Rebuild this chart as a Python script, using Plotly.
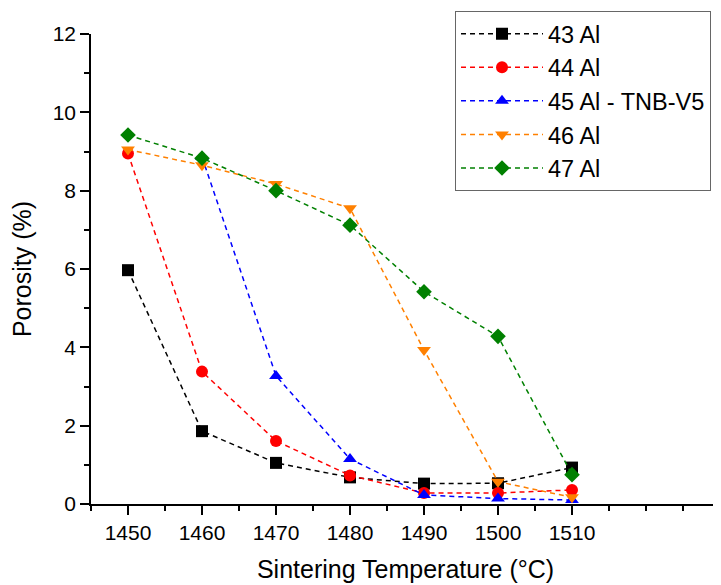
import plotly.graph_objects as go

temps = [1450, 1460, 1470, 1480, 1490, 1500, 1510]
temps_45 = [1460, 1470, 1480, 1490, 1500, 1510]

al43 = [5.97, 1.86, 1.05, 0.68, 0.52, 0.53, 0.93]
al44 = [8.95, 3.38, 1.61, 0.73, 0.28, 0.28, 0.36]
al45 = [8.86, 3.27, 1.15, 0.23, 0.14, 0.10]
al46 = [9.05, 8.65, 8.17, 7.55, 3.93, 0.57, 0.17]
al47 = [9.42, 8.83, 8.00, 7.12, 5.42, 4.28, 0.75]

series = [
    ("43 Al", temps, al43, "#000000", "square"),
    ("44 Al", temps, al44, "#FF0000", "circle"),
    ("45 Al - TNB-V5", temps_45, al45, "#0000FF", "triangle-up"),
    ("46 Al", temps, al46, "#FF8000", "triangle-down"),
    ("47 Al", temps, al47, "#008000", "diamond"),
]

fig = go.Figure()
for name, xs, ys, col, sym in series:
    fig.add_trace(go.Scatter(
        x=xs, y=ys, name=name, mode="lines+markers",
        line=dict(color=col, width=1.5, dash="5px,4px"),
        marker=dict(color=col, symbol=sym, size=12, line=dict(width=0)),
    ))

font = "Liberation Sans, Arial, sans-serif"
fig.update_layout(
    width=713, height=577,
    margin=dict(l=83, r=1, t=26, b=81),
    plot_bgcolor="white", paper_bgcolor="white",
    font=dict(family=font, size=21, color="black"),
    showlegend=True,
    legend=dict(x=0.9857, xanchor="right", y=1.049, yanchor="top",
                bordercolor="#666666", borderwidth=1, bgcolor="white",
                font=dict(size=23.5), itemwidth=82),
    xaxis=dict(
        range=[1445, 1530], tickvals=[1450, 1460, 1470, 1480, 1490, 1500, 1510],
        showline=True, linecolor="black", linewidth=1.5,
        ticks="outside", ticklen=9, tickwidth=1.5, tickcolor="black",
        showgrid=False, zeroline=False,
        minor=dict(ticks="outside", ticklen=5, tickwidth=1.5, tickcolor="black",
                   dtick=5, tick0=1445, showgrid=False),
        title=dict(text="Sintering Temperature (°C)", font=dict(size=25), standoff=18),
        tickfont=dict(size=21),
    ),
    yaxis=dict(
        range=[0, 12], dtick=2, tick0=0,
        showline=True, linecolor="black", linewidth=1.5,
        ticks="outside", ticklen=9, tickwidth=1.5, tickcolor="black",
        showgrid=False, zeroline=False,
        minor=dict(ticks="outside", ticklen=5, tickwidth=1.5, tickcolor="black",
                   dtick=1, tick0=0, showgrid=False),
        title=dict(text="Porosity (%)", font=dict(size=25), standoff=14),
        tickfont=dict(size=21),
    ),
)

fig.write_html("out.html")
